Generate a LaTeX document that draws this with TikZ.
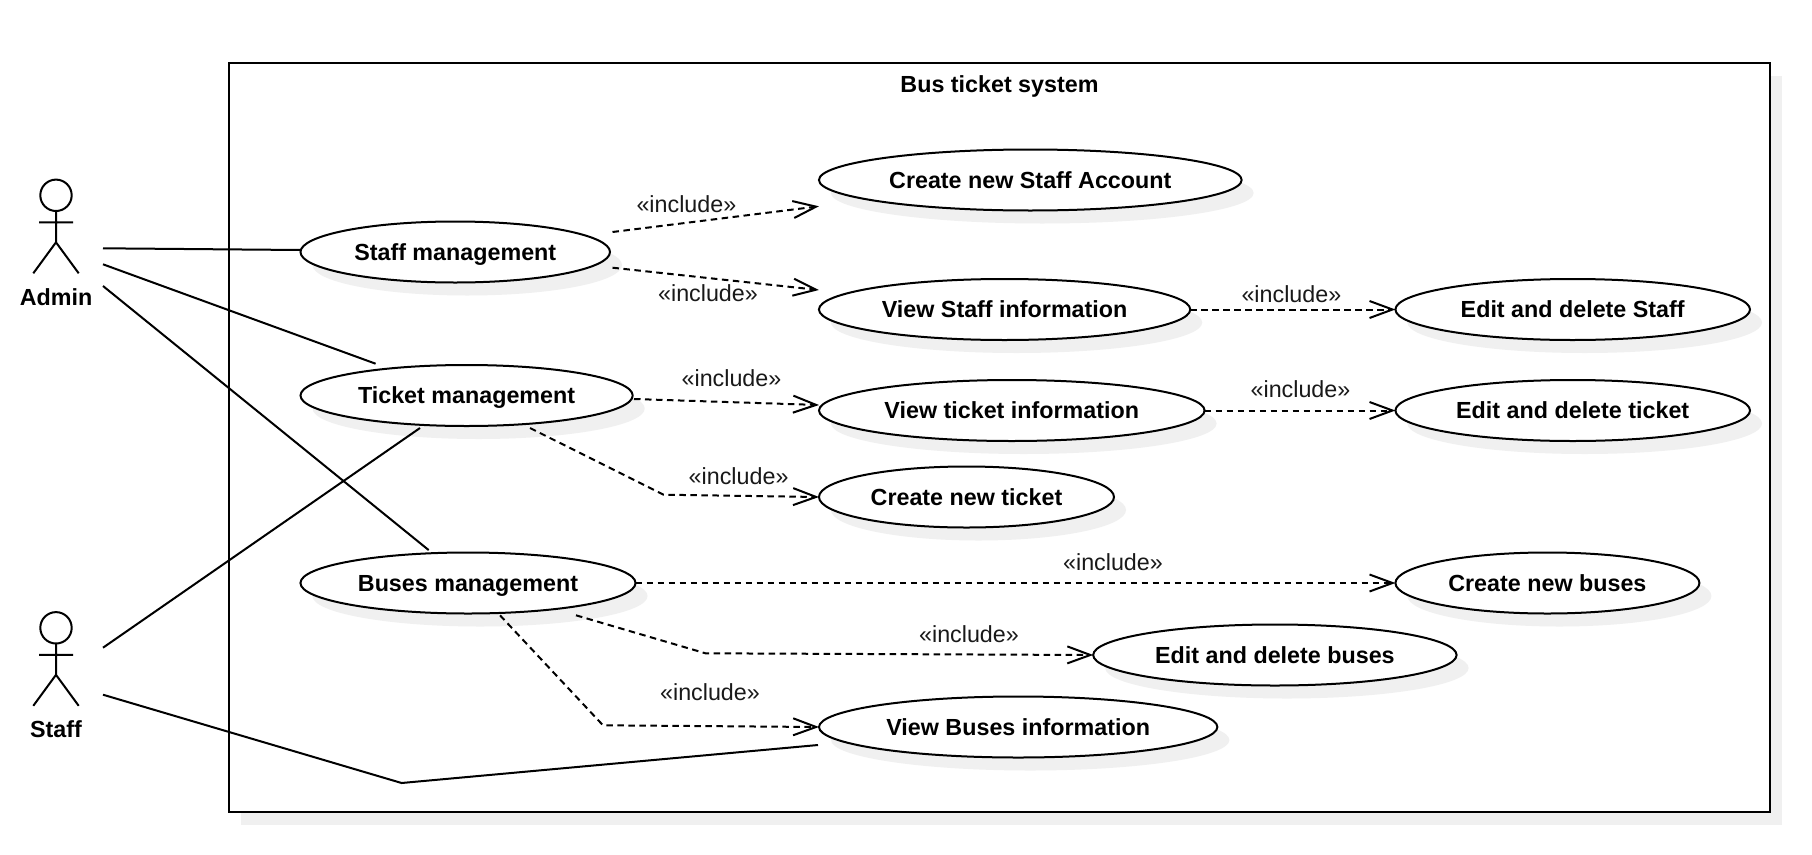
\documentclass[tikz,border=0pt]{standalone}
\usepackage{fontspec}
\setmainfont{Liberation Sans}
\usetikzlibrary{shapes.geometric,shadows,calc,arrows.meta}
\definecolor{shadowgray}{HTML}{F0F0F0}
\tikzset{
  softshadow/.style={drop shadow={shadow xshift=12pt,shadow yshift=-13pt,fill=shadowgray,opacity=1}},
  usecase/.style={ellipse,draw=black,line width=2pt,fill=white,softshadow,inner sep=0pt,outer sep=0pt,
    minimum height=61pt,text height=16pt,text depth=0pt,font=\fontsize{23.3}{26}\selectfont\bfseries},
  sysframe/.style={rectangle,draw=black,line width=2pt,fill=white,softshadow,inner sep=0pt,outer sep=0pt},
  actorbox/.style={rectangle,inner sep=0pt,outer sep=0pt,minimum width=94pt,minimum height=94pt},
  actorname/.style={inner sep=0pt,font=\fontsize{23.3}{26}\selectfont\bfseries},
  titletext/.style={inner sep=0pt,font=\fontsize{23.3}{26}\selectfont\bfseries},
  assoc/.style={draw=black,line width=2pt},
  incl/.style={draw=black,line width=2pt,dash pattern=on 6.5pt off 4.5pt,
    -{Straight Barb[length=23pt,width=17pt,line width=2pt,sep=0pt]}},
  incltext/.style={inner sep=0pt,font=\fontsize{23.3}{26}\selectfont,text=black!90},
  stick/.pic={
    \draw[line width=2pt] (0,0) circle[radius=15.7pt];
    \draw[line width=2pt] (0,16) -- (0,47) (-17,27) -- (17,27) (-22.7,78) -- (0,47) -- (22.7,78);
  }
}
\begin{document}
\begin{tikzpicture}[x=1pt,y=-1pt]
\fill[white] (0,0) rectangle (1812,854);
\useasboundingbox (0,0) rectangle (1812,854);

% system boundary
\node[sysframe,minimum width=1541pt,minimum height=749pt] (sys) at (999.5,437) {};
\node[titletext] (title) at (999.5,86.7) {Bus ticket system};

% actors
\node[actorbox] (admin) at (56,226) {};
\pic at (56,195.3) {stick};
\node[actorname] (adminname) at (56,296.7) {Admin};
\node[actorbox] (staff) at (56,659) {};
\pic at (56,627.8) {stick};
\node[actorname] (staffname) at (56,728.7) {Staff};

% use cases
\node[usecase,minimum width=309.5pt] (sm) at (455.25,252) {Staff management};
\node[usecase,minimum width=332.2pt] (tm) at (466.6,395.5) {Ticket management};
\node[usecase,minimum width=335.1pt] (bm) at (468,583) {Buses management};
\node[usecase,minimum width=422.7pt] (csa) at (1030.3,180) {Create new Staff Account};
\node[usecase,minimum width=371.3pt] (vsi) at (1004.6,309.5) {View Staff information};
\node[usecase,minimum width=354.6pt] (eds) at (1572.7,309.5) {Edit and delete Staff};
\node[usecase,minimum width=385.6pt] (vti) at (1011.8,410.5) {View ticket information};
\node[usecase,minimum width=354.6pt] (edt) at (1572.7,410.5) {Edit and delete ticket};
\node[usecase,minimum width=295pt] (cnt) at (966.5,497) {Create new ticket};
\node[usecase,minimum width=304pt] (cnb) at (1547.4,583) {Create new buses};
\node[usecase,minimum width=363.4pt] (edb) at (1274.9,655) {Edit and delete buses};
\node[usecase,minimum width=398.4pt] (vbi) at (1018.2,727) {View Buses information};

% associations
\draw[assoc] ($(admin.east)+(0,22.3)$) -- ($(sm.west)+(0,-2)$);
\draw[assoc] ($(admin.east)+(0,38.3)$) -- ($(tm.north)+(-91,-1.3)$);
\draw[assoc] ($(admin.east)+(0,60)$) -- ($(bm.north)+(-39.3,-2.4)$);
\draw[assoc] ($(staff.east)+(0,-11.3)$) -- ($(tm.south)+(-46.6,2)$);
\draw[assoc] ($(staff.east)+(0,35.7)$) -- (401.6,783) -- ($(vbi.west)+(-1,18)$);

% includes
\draw[incl] ($(sm.east)+(2.5,-20)$) -- ($(csa.west)+(0,26.3)$);
\draw[incl] ($(sm.east)+(2.5,15.7)$) -- ($(vsi.west)+(0,-19.5)$);
\draw[incl] (vsi.east) -- (eds.west);
\draw[incl] ($(tm.east)+(1.3,3.5)$) -- ($(vti.west)+(0,-5.5)$);
\draw[incl] (vti.east) -- (edt.west);
\draw[incl] ($(tm.south)+(63.4,2)$) -- (663.5,494.7) -- (cnt.west);
\draw[incl] (bm.east) -- (cnb.west);
\draw[incl] ($(bm.south)+(108,1.8)$) -- (705.5,653.3) -- (edb.west);
\draw[incl] ($(bm.south)+(32,1.8)$) -- (603,725.3) -- (vbi.west);

% include labels
\node[incltext] (l1) at (686.4,204.3) {«include»};
\node[incltext] (l2) at (708,293.3) {«include»};
\node[incltext] (l3) at (1291.4,294) {«include»};
\node[incltext] (l4) at (731.5,378.3) {«include»};
\node[incltext] (l5) at (1300.5,389) {«include»};
\node[incltext] (l6) at (738.6,476.3) {«include»};
\node[incltext] (l7) at (1113,562.3) {«include»};
\node[incltext] (l8) at (969,634.3) {«include»};
\node[incltext] (l9) at (710,692.3) {«include»};
\end{tikzpicture}
\end{document}
